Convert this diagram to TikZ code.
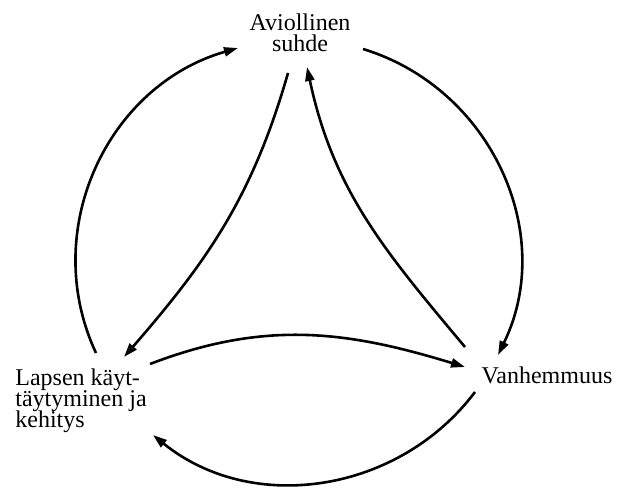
\documentclass[tikz,border=0pt]{standalone}
\usepackage{fontspec}
\setmainfont{Liberation Serif}
\usetikzlibrary{arrows.meta}
\newcommand{\labelfont}{\fontsize{24}{21}\selectfont\lineskiplimit=-50pt\relax}

\begin{document}
\begin{tikzpicture}[
    x=1pt, y=1pt,
    every node/.style={font=\labelfont, inner sep=0pt},
    arrow/.style={-{Triangle[length=14pt,width=9pt]}, line width=2.6pt}
]
\useasboundingbox (0,0) rectangle (617,487);

% Nodes
\node[align=center] (avio) at (300,454) {Aviollinen\\suhde};
\node[align=left] (lapsen) at (81,86) {Lapsen käyt-\\täytyminen ja\\kehitys};
\node (vanh) at (547,112) {Vanhemmuus};

% Outer circle
\draw[arrow] ([shift={(15,48)}]lapsen.center) to[out=115,in=196,looseness=1.03] ([shift={(-62,-15)}]avio.center);
\draw[arrow] ([shift={(63,-16)}]avio.center) to[out=-17,in=64,looseness=1.03] ([shift={(-49,20)}]vanh.center);
\draw[arrow] ([shift={(-72,-17)}]vanh.center) to[out=233,in=321] ([shift={(72,-34)}]lapsen.center);

% Inner arcs
\draw[arrow] ([shift={(-12,-40)}]avio.center) to[out=254,in=49] ([shift={(43,44)}]lapsen.center);
\draw[arrow] ([shift={(-82,28)}]vanh.center) to[out=130,in=282] ([shift={(7,-34)}]avio.center);
\draw[arrow] ([shift={(69,37)}]lapsen.center) to[out=21,in=163] ([shift={(-82,8)}]vanh.center);

\end{tikzpicture}
\end{document}
